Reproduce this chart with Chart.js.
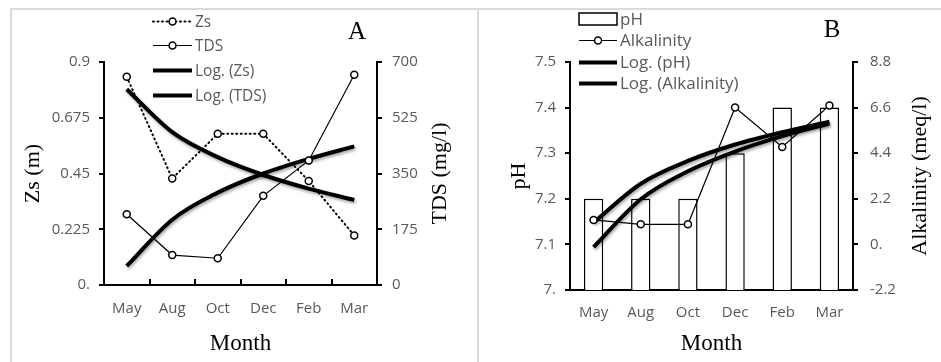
<!DOCTYPE html>
<html>
<head>
<meta charset="utf-8">
<script src="https://cdn.jsdelivr.net/npm/chart.js@4.4.0/dist/chart.umd.min.js"></script>
<style>
  html, body { margin: 0; padding: 0; background: #fff; }
  #wrap { position: relative; width: 941px; height: 362px; overflow: hidden; }
  canvas { position: absolute; top: 0; }
  #chartA { left: 0; }
  #chartB { left: 470px; }
  .frame { position: absolute; background: #dadada; }
</style>
</head>
<body>
<div id="wrap">
  <div class="frame" style="left:10px; top:8px; width:931px; height:2px"></div>
  <div class="frame" style="left:10px; top:8px; width:2px; height:354px"></div>
  <div class="frame" style="left:477px; top:8px; width:2px; height:354px"></div>
  <canvas id="chartA" width="470" height="362"></canvas>
  <canvas id="chartB" width="471" height="362"></canvas>
</div>
<script>
// data
const months = ['May', 'Aug', 'Oct', 'Dec', 'Feb', 'Mar'];

const zs = [0.84, 0.43, 0.61, 0.61, 0.42, 0.20];
const tds = [222, 94, 84, 280, 391, 660];
const zsLog = [0.79, 0.617, 0.516, 0.444, 0.389, 0.343];
const tdsLog = [60, 205, 290, 350, 396, 435];

const ph = [7.2, 7.2, 7.2, 7.3, 7.4, 7.4];
const alk = [1.18, 0.97, 0.97, 6.6, 4.7, 6.7];
const phLog = [7.148, 7.233, 7.283, 7.319, 7.346, 7.369];
const alkLog = [-0.13, 2.18, 3.53, 4.48, 5.22, 5.83];

const zsTicks = ['0.', '0.225', '0.45', '0.675', '0.9'];
const tdsTicks = ['0', '175', '350', '525', '700'];
const phTicks = ['7.', '7.1', '7.2', '7.3', '7.4', '7.5'];
const alkTicks = ['-2.2', '0.', '2.2', '4.4', '6.6', '8.8'];

const SERIF = '"Liberation Serif", "Times New Roman", serif';
const SANS = '"Open Sans", Lato, sans-serif';
const GREY = '#595959';

// trend lines get a soft grey shadow like the original
const shadowPlugin = {
    id: 'shadowPlugin',
    beforeDatasetDraw(chart, args) {
        if (chart.data.datasets[args.index].shadow) {
            const ctx = chart.ctx;
            ctx.shadowColor = 'rgba(0,0,0,0.35)';
            ctx.shadowBlur = 3;
            ctx.shadowOffsetX = 1;
            ctx.shadowOffsetY = 2;
        }
    },
    afterDatasetDraw(chart) {
        const ctx = chart.ctx;
        ctx.shadowColor = 'rgba(0,0,0,0)';
        ctx.shadowBlur = 0;
        ctx.shadowOffsetX = 0;
        ctx.shadowOffsetY = 0;
    }
};

// legend inside the plot, panel letter, right axis title, inner x ticks
const extrasPlugin = {
    id: 'extras',
    afterDraw(chart, args, opts) {
        const ctx = chart.ctx;
        const area = chart.chartArea;
        ctx.save();

        // inward tick marks between categories
        if (opts.innerTicks) {
            const xs = chart.scales.x;
            ctx.strokeStyle = '#000';
            ctx.lineWidth = 2;
            for (let i = 1; i < months.length; i++) {
                const px = Math.round((xs.getPixelForTick(i - 1) + xs.getPixelForTick(i)) / 2);
                ctx.beginPath();
                ctx.moveTo(px, area.bottom);
                ctx.lineTo(px, area.bottom - 6);
                ctx.stroke();
            }
        }

        // panel letter
        ctx.fillStyle = '#000';
        ctx.font = '25px ' + SERIF;
        ctx.textAlign = 'center';
        ctx.textBaseline = 'middle';
        ctx.fillText(opts.letter, opts.letterX, opts.letterY);

        // right axis title, reading bottom to top
        ctx.save();
        ctx.translate(opts.rightTitleX, (area.top + area.bottom) / 2);
        ctx.rotate(-Math.PI / 2);
        ctx.font = '22px ' + SERIF;
        ctx.fillText(opts.rightTitle, 0, 0);
        ctx.restore();

        // legend
        const lg = opts.legend;
        ctx.font = lg.fontSize + 'px ' + SANS;
        ctx.textAlign = 'left';
        lg.items.forEach(function(item, i) {
            const y = lg.rows[i];
            const ds = chart.data.datasets[item.ds];
            ctx.strokeStyle = '#000';
            ctx.setLineDash([]);
            if (item.kind === 'box') {
                ctx.lineWidth = 1.5;
                ctx.fillStyle = '#fff';
                ctx.fillRect(lg.x0, y - 6, lg.x1 - lg.x0, 12);
                ctx.strokeRect(lg.x0, y - 6, lg.x1 - lg.x0, 12);
            } else {
                ctx.lineWidth = ds.borderWidth;
                if (ds.borderDash) ctx.setLineDash(ds.borderDash);
                ctx.lineCap = ds.borderCapStyle || 'butt';
                ctx.beginPath();
                ctx.moveTo(lg.x0, y);
                ctx.lineTo(lg.x1, y);
                ctx.stroke();
                ctx.setLineDash([]);
                if (ds.pointRadius > 0) {
                    ctx.lineWidth = ds.pointBorderWidth;
                    ctx.fillStyle = ds.pointBackgroundColor;
                    ctx.beginPath();
                    ctx.arc((lg.x0 + lg.x1) / 2, y, ds.pointRadius, 0, Math.PI * 2);
                    ctx.fill();
                    ctx.stroke();
                }
            }
            ctx.fillStyle = GREY;
            ctx.textBaseline = 'middle';
            ctx.fillText(ds.label, lg.x1 + 3, y + 1);
        });
        ctx.restore();
    }
};

function fixWidth(w) {
    return function(scale) { scale.width = w; };
}
function fixHeight(h) {
    return function(scale) { scale.height = h; };
}

const tickFont = { family: SANS, size: 15 };
const titleFont = { family: SERIF, size: 22 };

// ---- Panel A ----
new Chart(document.getElementById('chartA'), {
    type: 'line',
    data: {
        labels: months,
        datasets: [{
            label: 'Zs',
            data: zs,
            yAxisID: 'y',
            borderColor: '#000',
            borderWidth: 2,
            borderDash: [1, 3.5],
            borderCapStyle: 'round',
            pointRadius: 3.5,
            pointBorderWidth: 1.5,
            pointBorderColor: '#000',
            pointBackgroundColor: '#fff',
            tension: 0
        }, {
            label: 'TDS',
            data: tds,
            yAxisID: 'y1',
            borderColor: '#000',
            borderWidth: 1.2,
            pointRadius: 3.5,
            pointBorderWidth: 1.5,
            pointBorderColor: '#000',
            pointBackgroundColor: '#fff',
            tension: 0
        }, {
            label: 'Log. (Zs)',
            data: zsLog,
            yAxisID: 'y',
            borderColor: '#000',
            borderWidth: 4,
            pointRadius: 0,
            cubicInterpolationMode: 'monotone',
            shadow: true
        }, {
            label: 'Log. (TDS)',
            data: tdsLog,
            yAxisID: 'y1',
            borderColor: '#000',
            borderWidth: 4,
            pointRadius: 0,
            cubicInterpolationMode: 'monotone',
            shadow: true
        }]
    },
    options: {
        responsive: false,
        animation: false,
        devicePixelRatio: 1,
        layout: { padding: { top: 62, left: 0, right: 0, bottom: 0 } },
        scales: {
            x: {
                offset: true,
                grid: { display: false },
                border: { display: true, color: '#000', width: 2 },
                ticks: { color: GREY, font: tickFont, padding: 7, maxRotation: 0 },
                title: { display: true, text: 'Month', color: '#000', font: { family: SERIF, size: 23 }, padding: { top: 0, bottom: 4 } },
                afterFit: fixHeight(77)
            },
            y: {
                position: 'left',
                min: 0, max: 0.9,
                ticks: { stepSize: 0.225, color: GREY, font: tickFont, padding: 9, callback: (v, i) => zsTicks[i] },
                grid: { drawOnChartArea: false, color: '#000', lineWidth: 2, tickLength: 5 },
                border: { display: true, color: '#000', width: 2 },
                title: { display: true, text: 'Zs (m)', color: '#000', font: titleFont, padding: { top: 20, bottom: 0 } },
                afterFit: fixWidth(104)
            },
            y1: {
                position: 'right',
                min: 0, max: 700,
                ticks: { stepSize: 175, color: GREY, font: tickFont, padding: 10, callback: (v, i) => tdsTicks[i] },
                grid: { drawOnChartArea: false, color: '#000', lineWidth: 2, tickLength: 5 },
                border: { display: true, color: '#000', width: 2 },
                afterFit: fixWidth(93)
            }
        },
        plugins: {
            legend: { display: false },
            tooltip: { enabled: false },
            extras: {
                innerTicks: true,
                letter: 'A', letterX: 357, letterY: 32,
                rightTitle: 'TDS (mg/l)', rightTitleX: 440,
                legend: {
                    x0: 153, x1: 192, fontSize: 15.5,
                    rows: [21.5, 45.5, 70.5, 95.5],
                    items: [{ ds: 0 }, { ds: 1 }, { ds: 2 }, { ds: 3 }]
                }
            }
        }
    },
    plugins: [shadowPlugin, extrasPlugin]
});

// ---- Panel B ----
new Chart(document.getElementById('chartB'), {
    type: 'bar',
    data: {
        labels: months,
        datasets: [{
            type: 'bar',
            label: 'pH',
            data: ph,
            yAxisID: 'y',
            backgroundColor: '#fff',
            borderColor: '#000',
            borderWidth: 1.5,
            borderSkipped: 'bottom',
            barPercentage: 0.41,
            categoryPercentage: 1,
            order: 3
        }, {
            type: 'line',
            label: 'Alkalinity',
            data: alk,
            yAxisID: 'y1',
            borderColor: '#000',
            borderWidth: 1.2,
            pointRadius: 3.5,
            pointBorderWidth: 1.5,
            pointBorderColor: '#000',
            pointBackgroundColor: '#fff',
            tension: 0,
            order: 0
        }, {
            type: 'line',
            label: 'Log. (pH)',
            data: phLog,
            yAxisID: 'y',
            borderColor: '#000',
            borderWidth: 4,
            pointRadius: 0,
            cubicInterpolationMode: 'monotone',
            shadow: true,
            order: 1
        }, {
            type: 'line',
            label: 'Log. (Alkalinity)',
            data: alkLog,
            yAxisID: 'y1',
            borderColor: '#000',
            borderWidth: 4,
            pointRadius: 0,
            cubicInterpolationMode: 'monotone',
            shadow: true,
            order: 2
        }]
    },
    options: {
        responsive: false,
        animation: false,
        devicePixelRatio: 1,
        layout: { padding: { top: 62, left: 0, right: 0, bottom: 0 } },
        scales: {
            x: {
                offset: true,
                grid: { display: false },
                border: { display: true, color: '#000', width: 2 },
                ticks: { color: GREY, font: tickFont, padding: 6, maxRotation: 0 },
                title: { display: true, text: 'Month', color: '#000', font: { family: SERIF, size: 23 }, padding: { top: 0, bottom: 4 } },
                afterFit: fixHeight(72)
            },
            y: {
                position: 'left',
                min: 7, max: 7.5,
                ticks: { stepSize: 0.1, color: GREY, font: tickFont, padding: 9, callback: (v, i) => phTicks[i] },
                grid: { drawOnChartArea: false, color: '#000', lineWidth: 2, tickLength: 5 },
                border: { display: true, color: '#000', width: 2 },
                title: { display: true, text: 'pH', color: '#000', font: titleFont, padding: { top: 36, bottom: 0 } },
                afterFit: fixWidth(100)
            },
            y1: {
                position: 'right',
                min: -2.2, max: 8.8,
                ticks: { stepSize: 2.2, color: GREY, font: tickFont, padding: 12, callback: (v, i) => alkTicks[i] },
                grid: { drawOnChartArea: false, color: '#000', lineWidth: 2, tickLength: 5 },
                border: { display: true, color: '#000', width: 2 },
                afterFit: fixWidth(88)
            }
        },
        plugins: {
            legend: { display: false },
            tooltip: { enabled: false },
            extras: {
                innerTicks: false,
                letter: 'B', letterX: 362, letterY: 30,
                rightTitle: 'Alkalinity (meq/l)', rightTitleX: 450,
                legend: {
                    x0: 109, x1: 147, fontSize: 17,
                    rows: [19, 40.5, 62.5, 83.5],
                    items: [{ ds: 0, kind: 'box' }, { ds: 1 }, { ds: 2 }, { ds: 3 }]
                }
            }
        }
    },
    plugins: [shadowPlugin, extrasPlugin]
});
</script>
</body>
</html>
